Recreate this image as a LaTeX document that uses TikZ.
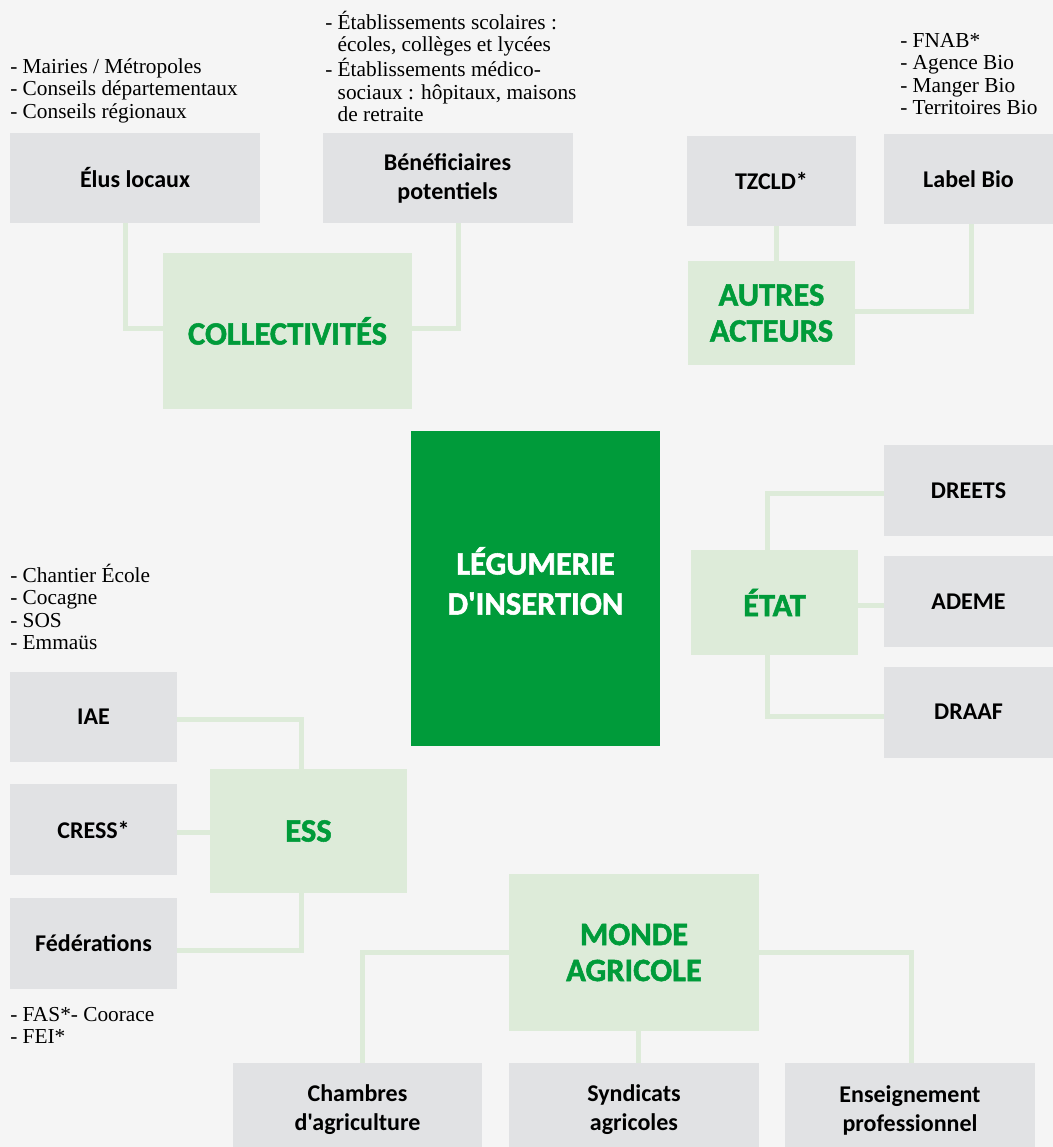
\documentclass[tikz,border=0pt]{standalone}
\usepackage{fontspec}
\setmainfont{Liberation Serif}
\newfontfamily\lblfont[Ligatures=Common]{Carlito}
\newfontfamily\heavyfont[Ligatures=Common, BoldFeatures={FakeBold=1.6}]{Carlito}
\usetikzlibrary{backgrounds}
\definecolor{bgcol}{HTML}{F5F5F5}
\definecolor{boxgray}{HTML}{E1E2E4}
\definecolor{lightgreen}{HTML}{DDEBD9}
\definecolor{darkgreen}{HTML}{009B3A}
\begin{document}
\begin{tikzpicture}[x=0.75pt,y=-0.75pt,
  sz/.style 2 args={minimum width=#1*0.75pt, minimum height=#2*0.75pt},
  gbox/.style={fill=boxgray, inner sep=0pt, align=center, text=black,
    font=\lblfont\bfseries\fontsize{18}{21.75}\selectfont},
  lgbox/.style={fill=lightgreen, inner sep=0pt, align=center, text=darkgreen,
    font=\heavyfont\bfseries\fontsize{24.4}{27}\selectfont},
  mainbox/.style={fill=darkgreen, inner sep=0pt, align=center, text=white,
    font=\heavyfont\bfseries\fontsize{24.4}{30}\selectfont},
  link/.style={draw=lightgreen, line width=3.75pt, line cap=butt},
  note/.style={anchor=base west, inner sep=0pt, text=black,
    font=\fontsize{16}{16.9}\selectfont}]
\useasboundingbox (0,0) rectangle (1053,1147);
\clip (0,0) rectangle (1053,1147);

% boxes
\node[gbox, sz={250}{90}] (elus) at (135,178) {Élus locaux};
\node[gbox, sz={250}{90}] (benef) at (447.5,178) {Bénéficiaires\\potentiels};
\node[lgbox, sz={249}{156}] (coll) at (287.5,331) {COLLECTIVITÉS};
\node[gbox, sz={169}{90}] (tzcld) at (771.5,181) {TZCLD*};
\node[gbox, sz={169}{90}] (label) at (968.5,179) {Label Bio};
\node[lgbox, sz={167}{104}] (autres) at (771.5,313) {AUTRES\\ACTEURS};
\node[mainbox, sz={249}{315}] (leg) at (535.5,588.5) {};
\node[mainbox, inner sep=0pt] (legtext) at (535.5,581) {LÉGUMERIE\\D'INSERTION};
\node[lgbox, sz={167}{105}] (etat) at (774.5,602.5) {ÉTAT};
\node[gbox, sz={169}{91}] (dreets) at (968.5,490.5) {DREETS};
\node[gbox, sz={169}{91}] (ademe) at (968.5,601.5) {ADEME};
\node[gbox, sz={169}{91}] (draaf) at (968.5,712) {DRAAF};
\node[gbox, sz={167}{90}] (iae) at (93.5,717) {IAE};
\node[gbox, sz={167}{91}] (cress) at (93.5,829.5) {CRESS*};
\node[gbox, sz={167}{91}] (fed) at (93.5,943.5) {Fédérations};
\node[lgbox, sz={197}{124}] (ess) at (308.5,831) {ESS};
\node[lgbox, sz={250}{157}] (monde) at (634,952.5) {MONDE\\AGRICOLE};
\node[gbox, sz={249}{94}] (chambres) at (357.5,1110) {Chambres\\d'agriculture};
\node[gbox, sz={250}{94}] (syndicats) at (634,1110) {Syndicats\\agricoles};
\node[gbox, sz={250}{94}] (enseign) at (910,1110) {Enseignement\\professionnel};

% notes
\node[note] (n1) at (10,73) {\begin{tabular}[t]{@{}l@{}}- Mairies / Métropoles\\- Conseils départementaux\\- Conseils régionaux\end{tabular}};
\node[note] (n2) at (325,29) {\begin{tabular}[t]{@{}l@{}}- Établissements scolaires :\\\phantom{- }écoles, collèges et lycées\\- Établissements médico-\\\phantom{- }sociaux : hôpitaux, maisons\\\phantom{- }de retraite\end{tabular}};
\node[note] (n3) at (900,47) {\begin{tabular}[t]{@{}l@{}}- FNAB*\\- Agence Bio\\- Manger Bio\\- Territoires Bio\end{tabular}};
\node[note] (n4) at (10,582) {\begin{tabular}[t]{@{}l@{}}- Chantier École\\- Cocagne\\- SOS\\- Emmaüs\end{tabular}};
\node[note] (n5) at (10,1021) {\begin{tabular}[t]{@{}l@{}}- FAS*- Coorace\\- FEI*\end{tabular}};

\begin{scope}[on background layer]
\fill[bgcol] (0,0) rectangle (1053,1147);
\draw[link] ([xshift=-7.5pt]elus.south) |- ([yshift=2pt]coll.west);
\draw[link] ([xshift=7.9pt]benef.south) |- ([yshift=2pt]coll.east);
\draw[link] ([xshift=3.4pt]tzcld.south) -- ([xshift=3.4pt]autres.north);
\draw[link] ([xshift=2.6pt]label.south) |- ([yshift=1.5pt]autres.east);
\draw[link] ([xshift=-4.9pt]etat.north) |- ([yshift=-1.9pt]dreets.west);
\draw[link] ([yshift=-2.6pt]etat.east) -- ([yshift=-2.6pt]etat.east -| ademe.west);
\draw[link] ([xshift=-4.9pt]etat.south) |- ([yshift=-3pt]draaf.west);
\draw[link] ([xshift=-5.6pt]ess.north) |- ([yshift=-1.5pt]iae.east);
\draw[link] ([yshift=-2.6pt]cress.east) -- ([yshift=-2.6pt]cress.east -| ess.west);
\draw[link] ([xshift=-5.6pt]ess.south) |- ([yshift=-4.9pt]fed.east);
\draw[link] (monde.west) -| ([xshift=4.1pt]chambres.north);
\draw[link] ([xshift=3pt]monde.south) -- ([xshift=3pt]syndicats.north);
\draw[link] (monde.east) -| ([xshift=0.75pt]enseign.north);
\end{scope}
\end{tikzpicture}
\end{document}
